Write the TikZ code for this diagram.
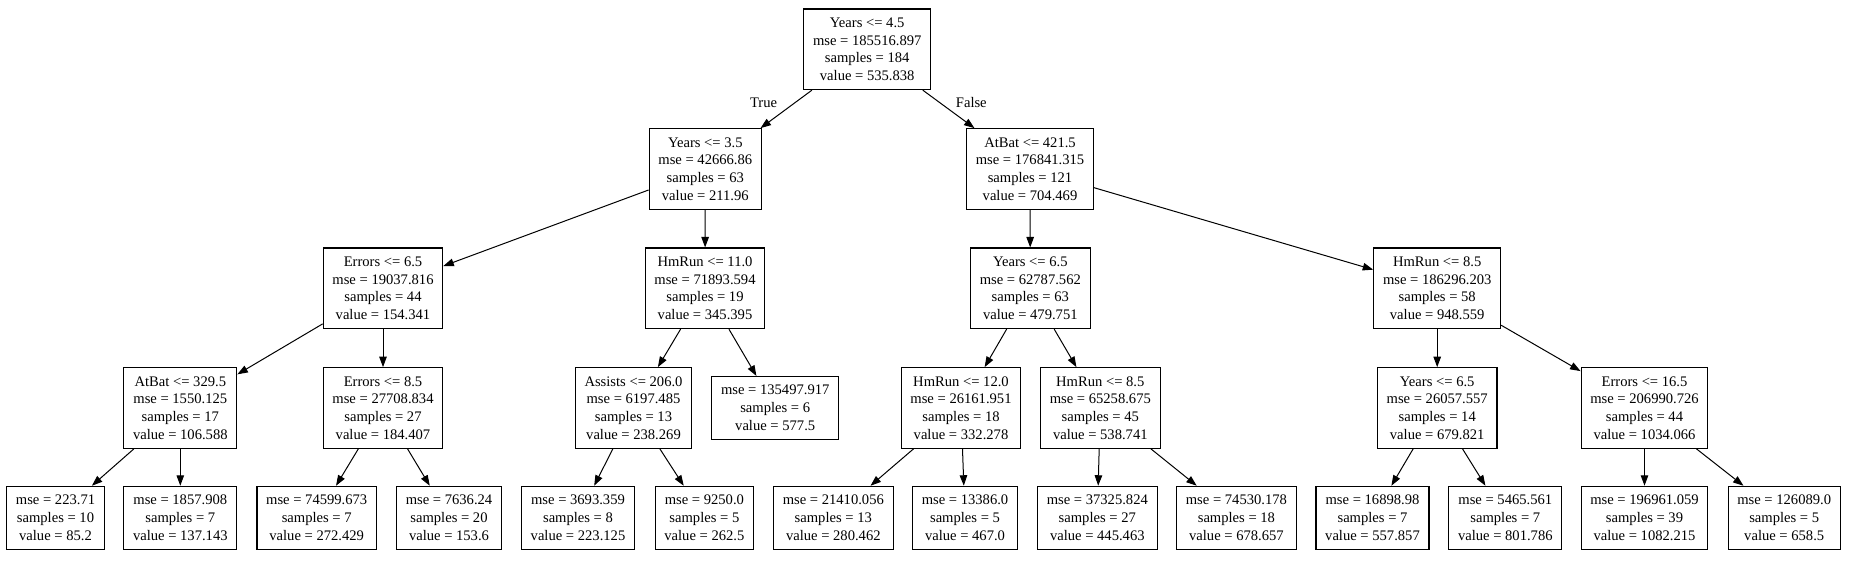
\documentclass[tikz,border=0pt]{standalone}
\usepackage{fontspec}
\setmainfont{Liberation Serif}
\usetikzlibrary{arrows.meta}
\tikzset{
  box/.style={draw=black, line width=1.1pt, rectangle, align=center, inner xsep=9.2pt, inner ysep=0pt,
    font=\fontsize{14.6}{17.8}\selectfont},
  split/.style={box, minimum height=80.6pt},
  leaf/.style={box, minimum height=63pt},
  edge/.style={draw=black, line width=1pt, -{Triangle[length=10.5pt,width=7.5pt]}},
  elabel/.style={font=\fontsize{14.6}{17.8}\selectfont, inner sep=0pt}
}
\begin{document}
\begin{tikzpicture}[x=1pt,y=-1pt]
\useasboundingbox (0,0) rectangle (1853,560);
\node[split] (n0) at (867.2,49.3) {Years <= 4.5\\mse = 185516.897\\samples = 184\\value = 535.838};
\node[split] (n1) at (705.3,169) {Years <= 3.5\\mse = 42666.86\\samples = 63\\value = 211.96};
\node[split] (n2) at (383,288.3) {Errors <= 6.5\\mse = 19037.816\\samples = 44\\value = 154.341};
\node[split] (n3) at (180.3,408) {AtBat <= 329.5\\mse = 1550.125\\samples = 17\\value = 106.588};
\node[leaf] (n4) at (55.5,517.8) {mse = 223.71\\samples = 10\\value = 85.2};
\node[leaf] (n5) at (180.3,517.8) {mse = 1857.908\\samples = 7\\value = 137.143};
\node[split] (n6) at (383,408) {Errors <= 8.5\\mse = 27708.834\\samples = 27\\value = 184.407};
\node[leaf] (n7) at (316.7,517.8) {mse = 74599.673\\samples = 7\\value = 272.429};
\node[leaf] (n8) at (449,517.8) {mse = 7636.24\\samples = 20\\value = 153.6};
\node[split] (n9) at (705,288.3) {HmRun <= 11.0\\mse = 71893.594\\samples = 19\\value = 345.395};
\node[split] (n10) at (633.5,408) {Assists <= 206.0\\mse = 6197.485\\samples = 13\\value = 238.269};
\node[leaf] (n11) at (578,517.8) {mse = 3693.359\\samples = 8\\value = 223.125};
\node[leaf] (n12) at (704.4,517.8) {mse = 9250.0\\samples = 5\\value = 262.5};
\node[leaf] (n13) at (775.2,408) {mse = 135497.917\\samples = 6\\value = 577.5};
\node[split] (n14) at (1030,169) {AtBat <= 421.5\\mse = 176841.315\\samples = 121\\value = 704.469};
\node[split] (n15) at (1030.3,288.3) {Years <= 6.5\\mse = 62787.562\\samples = 63\\value = 479.751};
\node[split] (n16) at (961,408) {HmRun <= 12.0\\mse = 26161.951\\samples = 18\\value = 332.278};
\node[leaf] (n17) at (833.3,517.8) {mse = 21410.056\\samples = 13\\value = 280.462};
\node[leaf] (n18) at (965,517.8) {mse = 13386.0\\samples = 5\\value = 467.0};
\node[split] (n19) at (1100.3,408) {HmRun <= 8.5\\mse = 65258.675\\samples = 45\\value = 538.741};
\node[leaf] (n20) at (1097.3,517.8) {mse = 37325.824\\samples = 27\\value = 445.463};
\node[leaf] (n21) at (1236.4,517.8) {mse = 74530.178\\samples = 18\\value = 678.657};
\node[split] (n22) at (1437.2,288.3) {HmRun <= 8.5\\mse = 186296.203\\samples = 58\\value = 948.559};
\node[split] (n23) at (1437.2,408) {Years <= 6.5\\mse = 26057.557\\samples = 14\\value = 679.821};
\node[leaf] (n24) at (1372.5,517.8) {mse = 16898.98\\samples = 7\\value = 557.857};
\node[leaf] (n25) at (1505.3,517.8) {mse = 5465.561\\samples = 7\\value = 801.786};
\node[split] (n26) at (1644.5,408) {Errors <= 16.5\\mse = 206990.726\\samples = 44\\value = 1034.066};
\node[leaf] (n27) at (1644.5,517.8) {mse = 196961.059\\samples = 39\\value = 1082.215};
\node[leaf] (n28) at (1784.2,517.8) {mse = 126089.0\\samples = 5\\value = 658.5};
\node[elabel] (ltrue) at (763.6,102.5) {True};
\node[elabel] (lfalse) at (971.3,102.5) {False};
\draw[edge] (n0) -- (n1);
\draw[edge] (n0) -- (n14);
\draw[edge] (n1) -- (n2);
\draw[edge] (n1) -- (n9);
\draw[edge] (n2) -- (n3);
\draw[edge] (n2) -- (n6);
\draw[edge] (n3) -- (n4);
\draw[edge] (n3) -- (n5);
\draw[edge] (n6) -- (n7);
\draw[edge] (n6) -- (n8);
\draw[edge] (n9) -- (n10);
\draw[edge] (n9) -- (n13);
\draw[edge] (n10) -- (n11);
\draw[edge] (n10) -- (n12);
\draw[edge] (n14) -- (n15);
\draw[edge] (n14) -- (n22);
\draw[edge] (n15) -- (n16);
\draw[edge] (n15) -- (n19);
\draw[edge] (n16) -- (n17);
\draw[edge] (n16) -- (n18);
\draw[edge] (n19) -- (n20);
\draw[edge] (n19) -- (n21);
\draw[edge] (n22) -- (n23);
\draw[edge] (n22) -- (n26);
\draw[edge] (n23) -- (n24);
\draw[edge] (n23) -- (n25);
\draw[edge] (n26) -- (n27);
\draw[edge] (n26) -- (n28);
\end{tikzpicture}
\end{document}
